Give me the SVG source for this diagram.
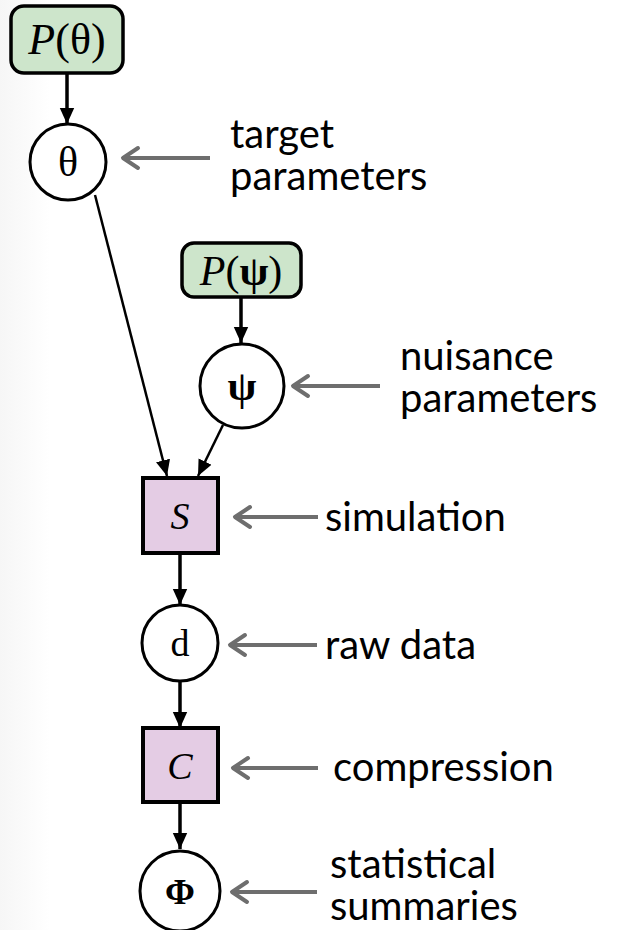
<svg xmlns="http://www.w3.org/2000/svg" width="625" height="930" viewBox="0 0 625 930">
<style>
.prior{fill:#cde5cb;stroke:#000;stroke-width:3.5}
.proc{fill:#e4cce4;stroke:#000;stroke-width:4}
.var{fill:#fff;stroke:#000;stroke-width:3}
.math{font-family:"Liberation Serif","DejaVu Serif",serif;fill:#000;text-anchor:middle}
.cal{font-style:italic}
.lbl{font-family:Lato,"Open Sans","Liberation Sans",sans-serif;font-size:40px;fill:#000}
.edge{stroke:#000;stroke-width:3.5;fill:none}
.edge2{stroke:#000;stroke-width:2.5;fill:none}
.ann{stroke:#6e6e6e;stroke-width:4;fill:none}
.annhead{stroke:#6e6e6e;stroke-width:4;fill:none;stroke-linecap:round;stroke-linejoin:round}
</style>
<defs>
<linearGradient id="bg" x1="0" y1="0" x2="1" y2="0">
<stop offset="0" stop-color="#f6f6f6"/>
<stop offset="1" stop-color="#ffffff"/>
</linearGradient>
<marker id="ah" viewBox="0 0 10 10" refX="10" refY="5" markerWidth="16" markerHeight="16" markerUnits="userSpaceOnUse" orient="auto">
<path d="M0,0.5 L10,5 L0,9.5 z" fill="#000"/>
</marker>
</defs>
<rect x="0" y="0" width="625" height="930" fill="#fff"/>
<rect x="0" y="0" width="50" height="930" fill="url(#bg)"/>

<g id="connectors">
<line class="edge" x1="67" y1="74" x2="67" y2="124" marker-end="url(#ah)"/>
<line class="edge2" x1="95" y1="195" x2="167" y2="476" marker-end="url(#ah)"/>
<line class="edge" x1="241" y1="297" x2="241" y2="343" marker-end="url(#ah)"/>
<line class="edge2" x1="223" y1="425" x2="198" y2="476" marker-end="url(#ah)"/>
<line class="edge" x1="180" y1="553" x2="180" y2="605" marker-end="url(#ah)"/>
<line class="edge" x1="180" y1="682" x2="180" y2="728" marker-end="url(#ah)"/>
<line class="edge" x1="180" y1="802" x2="180" y2="849" marker-end="url(#ah)"/>
</g>

<g id="prior-theta">
<rect class="prior" x="11" y="6" width="112" height="67" rx="13"/>
<text class="math" x="67" y="54" font-size="44"><tspan class="cal">P</tspan>(θ)</text>
</g>
<g id="theta">
<circle class="var" cx="68" cy="162" r="38"/>
<text class="math" x="68" y="176" font-size="42">θ</text>
</g>
<g id="prior-psi">
<rect class="prior" x="182" y="243" width="119" height="54" rx="12"/>
<text class="math" x="241" y="285" font-size="42"><tspan class="cal">P</tspan>(<tspan font-weight="bold">ψ</tspan>)</text>
</g>
<g id="psi">
<circle class="var" cx="242" cy="386" r="42"/>
<text class="math" x="242" y="400" font-size="42" font-weight="bold">ψ</text>
</g>
<g id="simulation">
<rect class="proc" x="143" y="478" width="75" height="75"/>
<text class="math cal" x="180" y="529" font-size="38">S</text>
</g>
<g id="d">
<circle class="var" cx="180" cy="643" r="38"/>
<text class="math" x="180" y="656" font-size="38">d</text>
</g>
<g id="compression">
<rect class="proc" x="143" y="728" width="75" height="74"/>
<text class="math cal" x="180" y="779" font-size="38">C</text>
</g>
<g id="phi">
<circle class="var" cx="180" cy="891" r="40"/>
<text class="math" x="180" y="904" font-size="36" font-weight="bold">Φ</text>
</g>

<g id="annotations">
<line class="ann" x1="122" y1="158" x2="210" y2="158"/>
<path class="annhead" d="M138,148 L123,158 L138,168"/>
<text class="lbl" x="230" y="148">target</text>
<text class="lbl" x="230" y="190">parameters</text>

<line class="ann" x1="292" y1="386" x2="380" y2="386"/>
<path class="annhead" d="M308,376 L293,386 L308,396"/>
<text class="lbl" x="400" y="370">nuisance</text>
<text class="lbl" x="400" y="412">parameters</text>

<line class="ann" x1="234" y1="517" x2="318" y2="517"/>
<path class="annhead" d="M250,507 L235,517 L250,527"/>
<text class="lbl" x="325" y="531">simulation</text>

<line class="ann" x1="229" y1="645" x2="317" y2="645"/>
<path class="annhead" d="M245,635 L230,645 L245,655"/>
<text class="lbl" x="325" y="659">raw data</text>

<line class="ann" x1="232" y1="768" x2="318" y2="768"/>
<path class="annhead" d="M248,758 L233,768 L248,778"/>
<text class="lbl" x="333" y="781">compression</text>

<line class="ann" x1="231" y1="892" x2="317" y2="892"/>
<path class="annhead" d="M247,882 L232,892 L247,902"/>
<text class="lbl" x="330" y="878">statistical</text>
<text class="lbl" x="330" y="920">summaries</text>
</g>
</svg>
